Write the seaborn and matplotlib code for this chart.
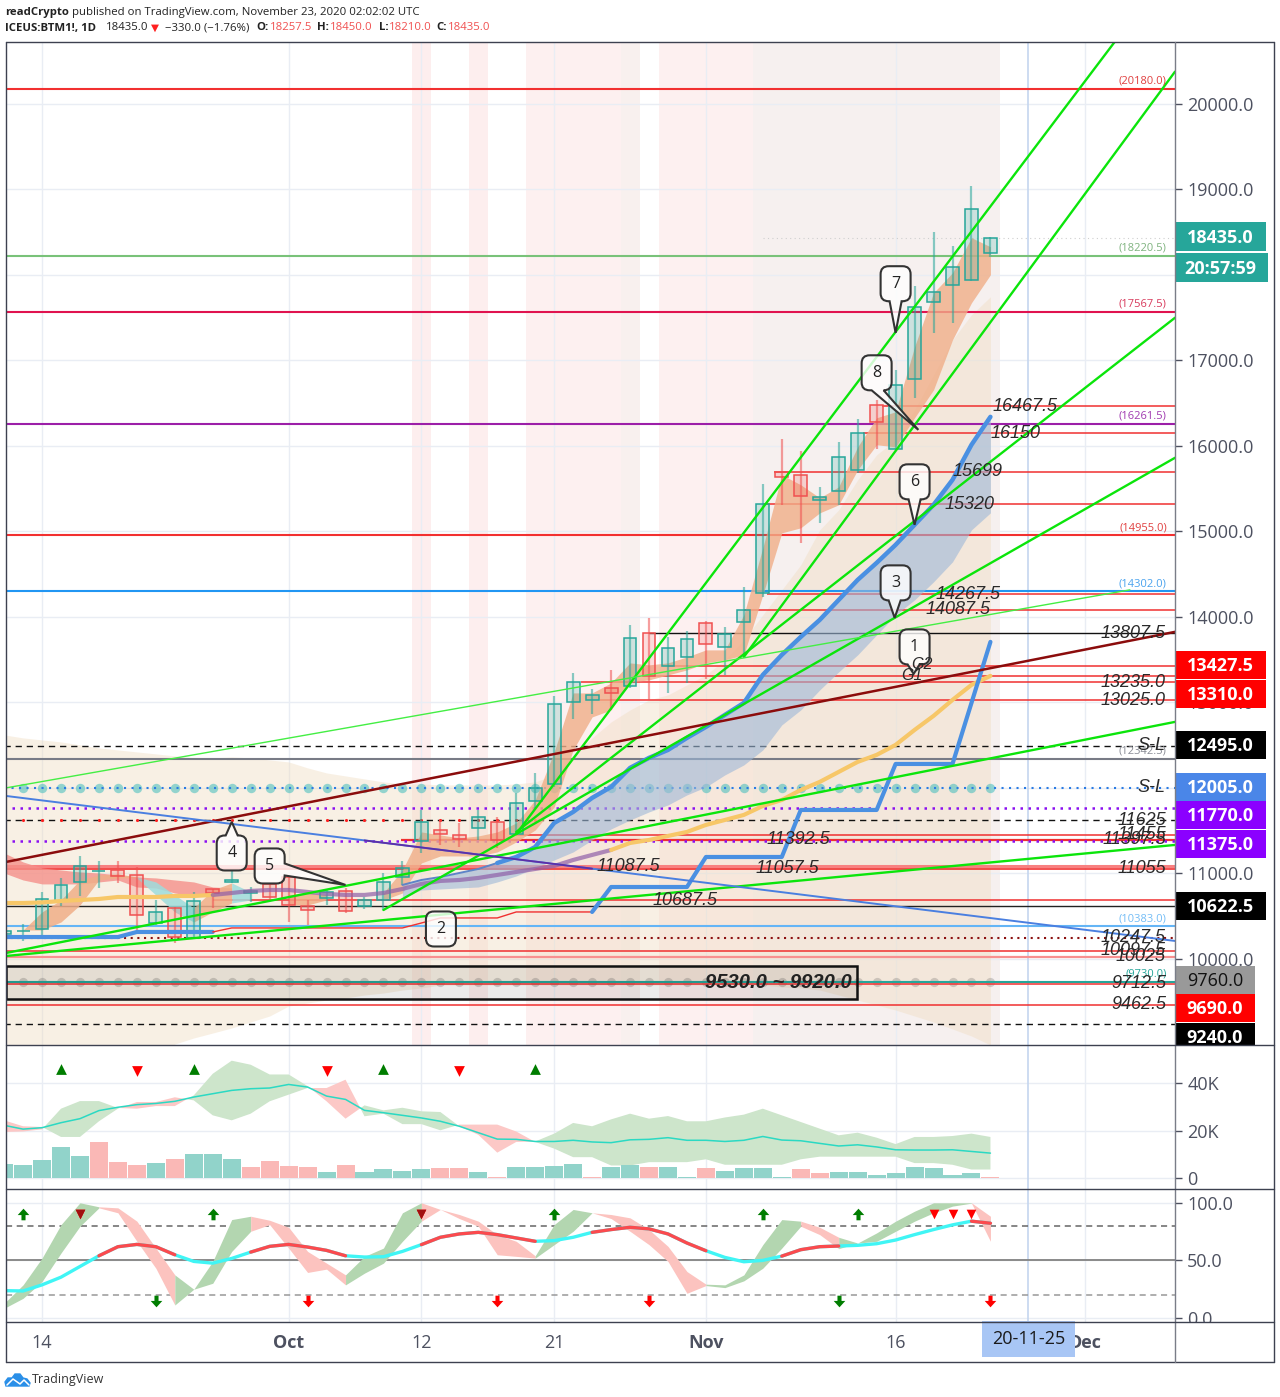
from itertools import groupby

import numpy as np
import pandas as pd
import seaborn as sns
import matplotlib
matplotlib.use("Agg")
from matplotlib import pyplot as plt
from matplotlib.lines import Line2D
from matplotlib.path import Path
from matplotlib.patches import Rectangle, Polygon, PathPatch

# bar index 0 is Sep 14, last bar (50) is Nov 23
bars = np.arange(-2, 51)

candle_open = [10298,10325,10351,10679,10901,11025,11041,10983,10421,10597,10246,10819,10901,10772,10878,10959,10620,10714,10796,10620,10690,10959,11381,11509,11451,11533,11603,11462,11849,12047,13007,13030,13171,13194,13814,13428,13533,13931,13650,13943,14282,15698,15663,15370,15476,15721,16482,15967,16786,17687,17886,17944,18257.5]
candle_high = [10400,10410,10784,10948,11205,11147,11147,11076,10690,10608,10784,10819,11030,10842,10878,10971,10690,10807,10831,10725,11006,11147,11743,11626,11591,11743,11661,11942,12176,13077,13346,13159,13381,13908,13990,13767,13838,13955,13884,14352,15558,16084,15944,15522,16049,16318,16540,16891,17874,18506,18342,19044,18450]
candle_low = [10250,10210,10257,10620,10737,10831,10889,10328,10398,10187,10234,10597,10889,10667,10679,10433,10398,10632,10538,10585,10573,10866,11240,11334,11310,11392,11299,11451,11767,12012,12808,12867,12913,13171,13030,13112,13229,13276,13323,13533,14235,15312,14867,15101,15312,15686,15967,15955,16564,17324,17441,17933,18210]
candle_close = [10328,10330,10702,10866,11088,11030,10971,10515,10550,10257,10679,10772,10924,10796,10725,10632,10573,10784,10562,10690,10901,11065,11603,11462,11404,11661,11392,11825,12001,12984,13241,13089,13112,13756,13311,13639,13744,13686,13803,14083,15324,15639,15417,15405,15873,16154,16283,16716,17628,17804,18096,18775,18435]

beige_top = [12621,12586,12562,12539,12504,12469,12445,12422,12399,12375,12352,12352,12363,12352,12328,12305,12235,12176,12141,12106,12071,12048,12048,12036,12036,12036,12036,12048,12071,12153,12387,12586,12773,12913,13030,13089,13206,13323,13498,13732,14025,14317,14610,15019,15253,15604,15897,16072,16423,16833,17242,17535,17745]
beige_bottom = [8818,8818,8818,8818,8818,8818,8818,8818,8818,9005,9076,9134,9193,9263,9333,9450,9485,9520,9544,9579,9602,9637,9661,9696,9696,9696,9696,9696,9696,9696,9696,9696,9696,9696,9696,9696,9696,9696,9696,9696,9696,9672,9661,9637,9579,9520,9462,9403,9333,9263,9181,9099,8994]

# left ribbons, first from bar -2, second from bar -1
red_rib_top = [11240,11135,11065,11041,11018,11006,10983,10959,10948,10924,10901,10842,10831]
red_rib_bot = [11006,10924,10878,10878,10878,10901,10924,10842,10831,10772,10737,10772,10749]
mix_rib_top = [10339,10550,10690,10924,10983,10995,10959,10901,10749,10597,10807,10889,10784,10772,10749,10772,10749]
mix_rib_bot = [10339,10339,10433,10632,10924,10948,10948,10749,10550,10433,10550,10655,10690,10737,10632,10632,10690]
mix_rib_kind = "oooooocccoocnnoo"

# orange ribbon from bar 18
orange_top = [10772,11041,11486,11451,11416,11439,11486,11591,11860,12422,13112,13112,13229,13463,13440,13463,13533,13615,13615,14025,14809,15663,15546,15394,15522,15990,16330,16400,17160,17792,18026,18436,18330]
orange_bot = [10690,10772,11123,11205,11205,11205,11252,11369,11509,11778,12445,12831,12913,13241,13264,13323,13381,13463,13498,13557,14259,14984,15043,15218,15312,15721,16014,15990,16330,16657,17242,17675,18003]

# blue ribbon from bar 19
blue_line = [10866,10924,10959,11006,11053,11123,11193,11310,11591,11720,11884,12012,12235,12352,12445,12586,12714,12855,12995,13323,13557,13767,13966,14200,14434,14633,14844,15078,15312,15604,16014,16341]
blue_bot = [10725,10807,10819,10831,10842,10901,10971,11065,11158,11252,11392,11521,11626,11720,11802,11919,12012,12153,12270,12445,12738,12913,13147,13358,13557,13791,14025,14200,14411,14645,15019,15218]

slow_ma = [10655,10655,10661,10679,10690,10702,10725,10725,10725,10737,10737,10749,10772,10796,10807,10807,10784,10761,10749,10749,10772,10819,10878,10913,10924,10948,10983,11018,11053,11088,11158,11217,11275,11357,11392,11439,11486,11568,11626,11685,11790,11860,11977,12071,12188,12305,12387,12504,12679,12843,13030,13206,13311]
stop_line = [10257,10257,10257,10257,10257,10257,10257,10316,10316,10316,10316,10316,10363,10363,10363,10363,10363,10363,10363,10363,10363,10363,10421,10480,10480,10480,10480,10550,10550,10550,10550,10550,10842,10842,10842,10842,10842,11193,11193,11193,11193,11193,11743,11743,11743,11743,11743,12281,12281,12281,12281,12995,13709]

# full width levels with a small label in brackets
level_prices = [20180,18220.5,17567.5,16261.5,14955,14302,12342.5,10383,9730]
level_labels = ["(20180.0)","(18220.5)","(17567.5)","(16261.5)","(14955.0)","(14302.0)","(12342.5)","(10383.0)","(9730.0)"]
level_colors = ["#f23030","#79c279","#e0134f","#9c1fa8","#f23030","#2196f3","#787b86","#64b5f6","#26a69a"]
level_text = ["#e04040","#7fb37f","#d83a5c","#a03ab0","#e04040","#4aa3ee","#8a8d96","#74bdf6","#26a69a"]

# red levels starting at a bar, running to the right edge
red_prices = [16467.5,16150,15699,15320,14267.5,14087.5,13427.5,13310,13235,13025,11455,11397.5,11087.5,11057.5,10687.5,10097.5,10025,9712.5,9462.5]
red_starts = [44.3,43.3,38.6,38,38.2,37,33,32,28.4,29.4,25,18.9,-1.9,-1.9,9,-1.9,-1.9,-1.9,-1.9]
red_colors = ["#f03030"]*12 + ["#f88080","#f02020"] + ["#f03030"]*2 + ["#f89090"] + ["#f03030"]*2
red_widths = [1.1]*11 + [1.6,2.2,1.1] + [1.1]*2 + [1.6] + [1.1]*2

# italic labels on the levels
note_text = ["16467.5","16150","15699","15320","14267.5","14087.5","11392.5","11087.5","11057.5","10687.5"]
note_price = [16467.5,16150,15699,15320,14267.5,14087.5,11392.5,11087.5,11057.5,10687.5]
note_bar = [51.8,51.3,49.3,48.9,48.8,48.3,39.85,30.9,39.3,33.9]
right_note_text = ["S-L","S-L","13807.5","13235.0","13025.0","11625","11455","11397.5","11055","10247.5","10097.5","10025","9712.5","9462.5"]
right_note_price = [12495,12005,13807.5,13235,13025,11625,11455,11397.5,11055,10247.5,10097.5,10025,9712.5,9462.5]

# trend lines as bar0, price0, bar1, price1
green_lines = [(25,11462,56.56,20729),(37,13533,59.73,20378),(25,11486,59.73,17500),(25,11462,59.73,15862),(18,10573,25,11462),(-1.9,10070,59.73,12773),(-1.9,10035,59.73,11334)]
thin_green = (-1.9,12001,57.35,14317)
dark_red_line = (-1.9,11135,59.73,13826)
blue_slope = (-1.9,11907,59.73,10211)

callout_text = ["1","2","3","4","5","6","7","8"]
callout_bar = [46,21.03,45,10,12,46,45,44]
callout_price = [13650,10351,14399,11240,11088,15581,17898,16856]
tip_bar = [45.95,21.03,44.95,10,16,46,45,46.2]
tip_price = [13335,10351,13990,11603,10866,15078,17324,16189]

price_ticks = [10000,11000,12000,13000,14000,15000,16000,17000,18000,19000,20000]
box_labels = ["18435.0","20:57:59","13427.5","13310.0","12495.0","12005.0","11770.0","11375.0","10622.5","9760.0","9690.0","9240.0"]
box_centers = [18447,18085,13440,13100,12504,12012,11685,11346,10620,9754,9427,9087]
box_colors = ["#26a69a","#26a69a","#ff0000","#ff0000","#000000","#4a86e8","#8b00ff","#8b00ff","#000000","#999999","#ff0000","#000000"]
box_widths = [91,93,91,91,91,91,91,91,91,80,80,80]

# volume panel, in thousands
volume = [6.0,5.6,7.4,13.1,9.1,15.0,6.7,5.6,6.5,7.9,10.0,10.0,7.9,4.5,7.0,4.9,4.5,2.4,5.3,2.4,3.7,2.8,3.7,4.1,4.1,2.4,0.3,4.5,4.5,5.2,6.0,0.3,4.5,5.6,4.5,4.5,0.3,4.1,2.8,4.1,4.1,0.3,3.7,2.0,2.4,2.4,1.5,2.0,4.5,4.1,1.1,2.0,0.3]
volume_dir = "tttttrrrtrtttrrrrtrttttrrtrttttrtt" + "rttrttttrrttttttttr"
volume_ma = [22.2,20.6,21.2,23.3,25.0,28.4,29.8,30.9,31.4,32.3,34.1,35.5,36.9,37.6,37.9,39.4,38.3,34.5,33.1,28.5,27.5,26.4,25.3,23.9,21.8,19.1,16.4,16.3,15.4,15.4,15.9,15.2,14.9,16.1,16.3,17.0,15.9,15.9,15.4,15.9,17.5,16.0,15.7,14.6,13.5,14.0,13.1,11.9,11.8,11.8,11.9,11.2,10.5]
vol_fast = [19.4,19.6,20.5,29.2,32.4,32.4,29.5,29.2,30.3,30.3,34.8,43.9,49.4,47.7,43.6,43.6,38.7,32.3,25.0,30.6,28.5,29.6,28.1,27.8,21.8,18.2,10.7,15.2,15.4,18.7,23.2,21.8,24.7,27.1,25.0,26.1,23.9,23.9,25.5,26.7,29.2,26.4,23.6,20.8,18.0,19.1,17.0,14.3,17.3,17.3,17.7,18.7,17.3]
vol_slow = [24.3,21.8,21.5,17.3,17.3,23.9,29.2,32.0,32.0,34.0,32.7,26.4,24.3,27.1,32.3,35.1,37.9,37.9,41.4,26.0,27.1,22.7,22.7,20.1,22.5,22.5,22.5,19.6,15.2,12.4,8.8,8.8,5.3,5.3,6.7,6.7,6.7,7.9,5.6,5.6,5.6,5.6,7.9,9.0,9.0,9.0,9.0,9.0,6.3,6.3,5.6,3.6,3.6]
vol_up_bars = [1,8,18,26]
vol_down_bars = [5,15,22]

# oscillator panel
osc_line = [23.6,23.3,28.6,35.3,44.6,53.9,61.8,63.8,61.8,54.8,49.0,47.5,51.6,57.1,62.1,63.8,61.5,58.6,53.9,52.8,53.1,57.7,63.6,70.0,72.9,74.3,72.3,69.4,66.5,67.1,70.0,74.3,76.7,78.7,77.3,72.9,65.0,58.3,52.5,48.7,49.9,53.6,59.2,61.8,62.4,63.0,64.4,67.6,72.3,76.7,80.8,84.0,82.2]
osc_top = [12.5,28.6,51.9,81.0,100,96.5,95.6,84.0,60.6,37.3,24.8,49.0,85.4,88.3,84.8,78.7,57.7,47.5,37.3,53.4,60.6,91.3,100,94.2,89.8,84.0,72.3,66.5,53.9,81.0,94.2,91.3,89.8,86.9,76.7,62.1,40.2,29.2,28.6,37.3,63.6,85.4,84.0,78.7,70.0,65.0,73.8,84.0,92.7,100,100,100,88.3]
osc_bot = [8.2,16.9,31.5,56.3,79.6,95.6,91.3,66.5,43.1,11.1,24.8,30.0,57.7,75.2,81.0,60.6,39.4,42.3,28.6,38.8,47.5,66.5,84.0,94.2,86.3,79.6,54.8,53.4,51.9,63.6,75.2,91.3,86.3,75.2,63.6,49.0,21.3,28.0,26.2,32.1,43.1,60.6,79.6,72.3,60.1,65.0,66.5,75.2,84.0,91.3,97.1,99.7,66.5]
osc_kind = "gggggrrrrggggrrrrrggggrrrrrrgggrrrrrrgggggrrgggggggr"
osc_red_spans = [(3,7),(11,16),(20,26),(29,35),(39,42),(49,50)]
osc_top_up = [-1,9,27,38,43]
osc_top_down = [2,20,47,48,49]
osc_low_green = [6,42]
osc_low_red = [14,24,32,50]

date_ticks = [0,13,20,27,35,45,55]
date_labels = ["14","Oct","12","21","Nov","16","Dec"]
cursor_bar = 52
cursor_label = "20-11-25"

W, H = 1280, 1397
sns.set_theme(style="white")
plt.rcParams['font.family'] = ['Open Sans', 'DejaVu Sans']

TEAL = "#26a69a"
RED = "#f05050"
GRID = "#e9edf4"
SCALE = "#4d5160"
PAD = 3.8


def rect_px(x0, y0, x1, y1):
    return [x0 / W, 1 - y1 / H, (x1 - x0) / W, (y1 - y0) / H]


def draw_line(ax, xs, ys, color, lw, z=5, **kw):
    sns.lineplot(x=xs, y=ys, ax=ax, color=color, linewidth=lw, zorder=z,
                 estimator=None, sort=False, legend=False, errorbar=None, **kw)


def ribbon(ax, xs, top, bot, color, z=3, alpha=1.0):
    ax.fill_between(xs, top, bot, color=color, lw=0, zorder=z, alpha=alpha)


def runs(kinds):
    # consecutive segments of one kind, so a fill has no seams
    pos = 0
    for kind, grp in groupby(kinds):
        n = len(list(grp))
        yield kind, pos, pos + n + 1
        pos += n


def level(ax, price, start, color, lw, ls="-", z=2.5):
    ax.hlines(price, start, 60, color=color, lw=lw, linestyles=ls, zorder=z)


def bubble_path(cb, cp, tb, tp, hw=15, hh=17.5, r=8, base=6):
    # rounded box with a tail on the side facing the tip, built in px around the box centre
    dx, dy = (tb - cb) * 18.97, (tp - cp) / 11.7
    side = None
    if np.hypot(dx, dy) > 1:
        side = ("right" if dx > 0 else "left") if abs(dx) > abs(dy) else ("top" if dy > 0 else "bottom")
    bx = np.clip(dx, -hw + r + base, hw - r - base)
    by = np.clip(dy, -hh + r + base, hh - r - base)
    v, c = [(-hw + r, hh)], [Path.MOVETO]
    if side == "top":
        v += [(bx - base, hh), (dx, dy), (bx + base, hh)]
        c += [Path.LINETO] * 3
    v += [(hw - r, hh), (hw, hh), (hw, hh - r)]
    c += [Path.LINETO, Path.CURVE3, Path.CURVE3]
    if side == "right":
        v += [(hw, by + base), (dx, dy), (hw, by - base)]
        c += [Path.LINETO] * 3
    v += [(hw, -hh + r), (hw, -hh), (hw - r, -hh)]
    c += [Path.LINETO, Path.CURVE3, Path.CURVE3]
    if side == "bottom":
        v += [(bx + base, -hh), (dx, dy), (bx - base, -hh)]
        c += [Path.LINETO] * 3
    v += [(-hw + r, -hh), (-hw, -hh), (-hw, -hh + r)]
    c += [Path.LINETO, Path.CURVE3, Path.CURVE3]
    v += [(-hw, hh - r), (-hw, hh), (-hw + r, hh)]
    c += [Path.LINETO, Path.CURVE3, Path.CURVE3]
    return Path([(cb + x / 18.97, cp + y * 11.7) for x, y in v], c)


fig = plt.figure(figsize=(W / 100, H / 100), dpi=100, facecolor="white")
ax = fig.add_axes(rect_px(6, 42, 1175, 1045))
ax_vol = fig.add_axes(rect_px(6, 1045, 1175, 1189), sharex=ax)
ax_osc = fig.add_axes(rect_px(6, 1189, 1175, 1322), sharex=ax)
ax_box = fig.add_axes(rect_px(1175, 42, 1275, 1045), sharey=ax)

for a in (ax, ax_vol, ax_osc):
    a.set_facecolor("white")
    a.grid(True, color=GRID, lw=1)
    a.set_axisbelow(True)
    a.yaxis.tick_right()
    for s in a.spines.values():
        s.set_visible(False)
    a.axvline(cursor_bar, color="#c5d6ef", lw=1.2, zorder=1.5)

ax.set_xlim(-1.9, 59.73)
ax.set_ylim(8994, 20725)
ax_vol.set_ylim(-4.6, 56)
ax_osc.set_ylim(-3.7, 112)

# session shading
for b0, b1, col in [(19.5, 20.5, "#fdeeee"), (22.5, 23.5, "#fdeeee"), (25.5, 30.5, "#fdf0f0"),
                    (30.5, 31.5, "#f8f0ee"), (32.5, 37.5, "#fdf0f0"), (37.5, 50.5, "#f6f0ef")]:
    ax.axvspan(b0, b1, color=col, lw=0, zorder=0.2)

ribbon(ax, bars, beige_top, beige_bottom, "#f0dcc0", z=1, alpha=0.42)

for p, c in zip(level_prices, level_colors):
    level(ax, p, -2, c, 1.5)
for p, b0, c, w in zip(red_prices, red_starts, red_colors, red_widths):
    level(ax, p, b0, c, w)
level(ax, 13807.5, 32, "#111111", 1.0)
level(ax, 10622.5, -2, "#222222", 1.0)
for p in [12495, 11625, 9240]:
    level(ax, p, -2, "#111111", 1.0, ls=(0, (4.5, 3.5)))
level(ax, 12005, -2, "#2a7be4", 1.5, ls=(0, (1, 2.6)))
for p in [11770, 11375]:
    level(ax, p, -2, "#8b10f0", 1.8, ls=(0, (1, 2.2)))
level(ax, 10247.5, -2, "#8b1010", 1.5, ls=(0, (1, 2.2)))
level(ax, 18435, 38, "#cfcfcf", 0.8, ls=(0, (1, 3)))

dot_bars = bars[1:]
sns.scatterplot(x=dot_bars, y=np.full(len(dot_bars), 12005.0), ax=ax, color="#2fb8b8", alpha=0.5,
                s=46, linewidth=0, zorder=2.4, legend=False)
sns.scatterplot(x=dot_bars, y=np.full(len(dot_bars), 9730.0), ax=ax, color="#555555", alpha=0.25,
                s=44, linewidth=0, zorder=2.4, legend=False)
sns.scatterplot(x=bars[1:29], y=np.full(28, 11625.0), ax=ax, color="#ff2020", s=5, linewidth=0,
                zorder=2.7, legend=False)

# ribbons
ribbon(ax, bars[:13], red_rib_top, red_rib_bot, "#f5908a", alpha=0.8)
rib_cols = {"o": "#f0ae88", "c": "#9edcdc"}
mix_bars = bars[1:]
for kind, i0, i1 in runs(mix_rib_kind):
    if kind != "n":
        ribbon(ax, mix_bars[i0:i1], mix_rib_top[i0:i1], mix_rib_bot[i0:i1], rib_cols[kind], alpha=0.85)
ribbon(ax, bars[20:], orange_top, orange_bot, "#f0ae88", z=3.1, alpha=0.8)
ribbon(ax, bars[21:], blue_line, blue_bot, "#9db8d8", z=3.1, alpha=0.6)

# candles
frame = pd.DataFrame({"bar": bars, "o": candle_open, "h": candle_high, "l": candle_low, "c": candle_close})
frame["col"] = np.where(frame.c >= frame.o, TEAL, RED)
ax.vlines(frame.bar, frame.l, frame.h, colors=frame.col, lw=1.6, alpha=0.55, zorder=3.4)
ax.bar(frame.bar, (frame.c - frame.o).abs(), bottom=frame[["o", "c"]].min(axis=1), width=0.68,
       color=[matplotlib.colors.to_rgba(c, 0.2) for c in frame.col], edgecolor=frame.col, lw=1.1, zorder=3.5)

# moving averages and the stop line
draw_line(ax, bars[:12], slow_ma[:12], "#f7c768", 3, z=4)
draw_line(ax, bars[11:33], slow_ma[11:33], "#8f5fa8", 3, z=4, alpha=0.7)
draw_line(ax, bars[32:], slow_ma[32:], "#f7c768", 3, z=4)
draw_line(ax, bars[21:27], blue_line[:6], "#5e84c8", 1.4, z=4.2)
draw_line(ax, bars[26:], blue_line[5:], "#4a90e2", 3.2, z=4.2)
draw_line(ax, bars[:12], stop_line[:12], "#4a90e2", 3, z=4)
draw_line(ax, bars[11:32], stop_line[11:32], "#f03030", 1, z=4)
draw_line(ax, bars[31:], stop_line[31:], "#4a90e2", 3, z=4.2)

for b0, p0, b1, p1 in green_lines:
    draw_line(ax, [b0, b1], [p0, p1], "#0be50b", 1.7)
draw_line(ax, [thin_green[0], thin_green[2]], [thin_green[1], thin_green[3]], "#44ee44", 1)
draw_line(ax, [dark_red_line[0], dark_red_line[2]], [dark_red_line[1], dark_red_line[3]], "#8b0c0c", 1.8)
draw_line(ax, [blue_slope[0], blue_slope[2]], [blue_slope[1], blue_slope[3]], "#4a7fe0", 1.4)
bs = (blue_slope[3] - blue_slope[1]) / (blue_slope[2] - blue_slope[0])
draw_line(ax, [17, 29], [blue_slope[1] + bs * 18.9, blue_slope[1] + bs * 30.9], "#5e2fa8", 1.3, z=5.1)

# price range box
ax.add_patch(Rectangle((-1.9, 9530), 44.86, 390, facecolor="#000000", edgecolor="none", alpha=0.08, zorder=5.5))
ax.add_patch(Rectangle((-1.9, 9530), 44.86, 390, fill=False, edgecolor="#111111", lw=1.8, zorder=5.6))
ax.text(38.8, 9725, "9530.0 ~ 9920.0", family="Liberation Sans", style="italic", weight="bold",
        fontsize=14.5, color="#222222", ha="center", va="center", zorder=7)

# level labels
for p, t, c in zip(level_prices, level_labels, level_text):
    ax.annotate(t, xy=(59.3, p), xytext=(0, 5.5), textcoords="offset points", ha="right", va="center",
                fontsize=8, color=c, zorder=7)
for t, p, b in zip(note_text, note_price, note_bar):
    ax.text(b, p, t, family="Liberation Sans", style="italic", fontsize=13, color="#2a2a2a",
            ha="center", va="center", zorder=7)
for t, p in zip(right_note_text, right_note_price):
    ax.text(59.25, p, t, family="Liberation Sans", style="italic", fontsize=13, color="#2a2a2a",
            ha="right", va="center", zorder=7)
ax.text(46.4, 13440, "G2", family="Liberation Sans", style="italic", fontsize=11.5, color="#2a2a2a", ha="center", va="center", zorder=9)
ax.text(45.85, 13311, "G1", family="Liberation Sans", style="italic", fontsize=11.5, color="#2a2a2a", ha="center", va="center", zorder=9)

# callouts, see-through as in the drawing tool
for t, cb, cp, tb, tp in zip(callout_text, callout_bar, callout_price, tip_bar, tip_price):
    ax.add_patch(PathPatch(bubble_path(cb, cp, tb, tp), facecolor=(1, 1, 1, 0.8), edgecolor="#333333",
                           lw=1.5, zorder=8))
    ax.text(cb, cp, t, fontsize=11.5, color="#222222", ha="center", va="center", zorder=9)

ax.set_yticks(price_ticks, [f"{p:.1f}" for p in price_ticks], fontsize=13, color=SCALE)
ax.tick_params(axis="y", length=5, width=1, color=SCALE, pad=PAD)
ax.tick_params(axis="x", length=0, labelbottom=False)

# boxes on the price scale
ax_box.set_xlim(0, 100)
ax_box.axis("off")
ax_box.patch.set_alpha(0)
ax_box.set_zorder(3)
for t, p, c, w in zip(box_labels, box_centers, box_colors, box_widths):
    ax_box.add_patch(Rectangle((0, p - 168), w, 336, facecolor=c, edgecolor="none"))
    tc = "#111111" if c == "#999999" else "white"
    ax_box.text(w / 2 if w == 80 else 45, p - 12, t, fontsize=13, weight="medium" if c == "#999999" else "bold",
                color=tc, ha="center", va="center")

# volume
vol_frame = pd.DataFrame({"bar": bars, "vol": volume, "kind": list(volume_dir)})
sns.barplot(data=vol_frame, x="bar", y="vol", hue="kind", palette={"t": "#91d3ca", "r": "#fab8b6"},
            native_scale=True, dodge=False, width=0.95, ax=ax_vol, legend=False, zorder=3, linewidth=0,
            saturation=1)
vf, vs = np.array(vol_fast), np.array(vol_slow)
ax_vol.fill_between(bars, vf, vs, where=vf >= vs, interpolate=True, color="#cde5cb", lw=0, zorder=2)
ax_vol.fill_between(bars, vf, vs, where=vf <= vs, interpolate=True, color="#fcc8c6", lw=0, zorder=2)
draw_line(ax_vol, bars, volume_ma, "#2bd9c3", 1.1, z=4)
sns.scatterplot(x=vol_up_bars, y=[45.8] * 4, ax=ax_vol, marker="^", color="#007d00", s=60, linewidth=0, zorder=5, legend=False)
sns.scatterplot(x=vol_down_bars, y=[44.9] * 3, ax=ax_vol, marker="v", color="#ff0000", s=60, linewidth=0, zorder=5, legend=False)
ax_vol.set_ylim(-4.6, 56)
ax_vol.set_yticks([0, 20, 40], ["0", "20K", "40K"], fontsize=13, color=SCALE)
ax_vol.tick_params(axis="y", length=5, width=1, color=SCALE, pad=PAD)
ax_vol.tick_params(axis="x", length=0, labelbottom=False)
ax_vol.set_xlabel("")
ax_vol.set_ylabel("")

# oscillator
osc_cols = {"g": "#b3d6b0", "r": "#fcc3bf"}
for kind, i0, i1 in runs(osc_kind):
    ribbon(ax_osc, bars[i0:i1], osc_top[i0:i1], osc_bot[i0:i1], osc_cols[kind], z=2)
ax_osc.axhline(50, color="#8a8a8a", lw=1.4, zorder=1.8)
for p, c in [(80, "#666666"), (20, "#999999")]:
    ax_osc.axhline(p, color=c, lw=1.1, ls=(0, (4, 3)), zorder=1.8)
osc = np.array(osc_line)
draw_line(ax_osc, bars, osc, "#40f5f5", 2.4, z=4)
for b0, b1 in osc_red_spans:
    draw_line(ax_osc, np.arange(b0, b1 + 1), osc[b0 + 2:b1 + 3], "#fb4a4e", 2.4, z=4.1)

arrow_up = [(-1, -0.1), (-0.35, -0.1), (-0.35, -1), (0.35, -1), (0.35, -0.1), (1, -0.1), (0, 1)]
arrow_dn = [(x, -y) for x, y in arrow_up]
sns.scatterplot(x=osc_top_up, y=[90.4] * len(osc_top_up), ax=ax_osc, marker=arrow_up, color="#007d00", s=70, linewidth=0, zorder=5, legend=False)
sns.scatterplot(x=osc_top_down, y=[90.4] * len(osc_top_down), ax=ax_osc, marker="v", color="#ff0000", s=48, linewidth=0, zorder=5, legend=False)
sns.scatterplot(x=osc_top_down[:2], y=[90.4] * 2, ax=ax_osc, marker="v", color="#a01010", s=48, linewidth=0, zorder=5.1, legend=False)
sns.scatterplot(x=osc_low_green, y=[14.9] * 2, ax=ax_osc, marker=arrow_dn, color="#007d00", s=70, linewidth=0, zorder=5, legend=False)
sns.scatterplot(x=osc_low_red, y=[14.9] * 4, ax=ax_osc, marker=arrow_dn, color="#ff0000", s=70, linewidth=0, zorder=5, legend=False)
ax_osc.set_ylim(-3.7, 112)
ax_osc.set_yticks([0, 50, 100], ["0.0", "50.0", "100.0"], fontsize=13, color=SCALE)
ax_osc.tick_params(axis="y", length=5, width=1, color=SCALE, pad=PAD)
ax_osc.set_xticks(date_ticks, date_labels, fontsize=13, color=SCALE)
ax_osc.tick_params(axis="x", length=4, width=1, color=SCALE, pad=5)
for lab in ax_osc.get_xticklabels():
    if lab.get_text() in ("Oct", "Nov", "Dec"):
        lab.set_fontweight("bold")
ax.set_xlim(-1.9, 59.73)

tr = ax_osc.get_xaxis_transform()
ax_osc.add_patch(Rectangle((cursor_bar - 2.45, -0.263), 4.9, 0.27, transform=tr, facecolor="#a8c6f5",
                           edgecolor="none", clip_on=False, zorder=10))
ax_osc.text(cursor_bar, -0.125, cursor_label, transform=tr, fontsize=13, color="#1a1a1a", ha="center",
            va="center", zorder=11, clip_on=False)
ax_osc.add_patch(Rectangle((1, -0.3), 0.09, 0.3, transform=ax_osc.transAxes, facecolor="white",
                           edgecolor="none", clip_on=False, zorder=10))


def fig_line(x0, y0, x1, y1, col="#3d4150", lw=1.0):
    fig.add_artist(Line2D([x0 / W, x1 / W], [1 - y0 / H, 1 - y1 / H], color=col, lw=lw, zorder=30))


fig_line(6, 42, 1274, 42)
fig_line(6, 1362, 1274, 1362)
fig_line(6, 42, 6, 1362)
fig_line(1274, 42, 1274, 1362)
fig_line(1175, 42, 1175, 1362, col="#7a7d88")
for y in (1045, 1189, 1322):
    fig_line(6, y, 1274, y)


def ftext(x, y, s, **kw):
    kw.setdefault("fontsize", 8.2)
    kw.setdefault("color", "#222222")
    fig.text(x / W, 1 - y / H, s, va="center", ha="left", **kw)


ftext(5, 12, "readCrypto", weight="bold")
ftext(72, 12, "published on TradingView.com, November 23, 2020 02:02:02 UTC")
ftext(5, 28, "ICEUS:BTM1!, 1D", weight="bold")
ftext(106, 28, "18435.0")
ftext(151, 28, "▼", color="#ff2020", fontsize=7.5)
ftext(165, 28, "−330.0 (−1.76%)")
for x, k, v, off in [(256, "O:", "18257.5", 14), (317, "H:", "18450.0", 13), (379, "L:", "18210.0", 10), (436, "C:", "18435.0", 12)]:
    ftext(x, 28, k, weight="bold")
    ftext(x + off, 28, v, color="#f05050")
ftext(32, 1380, "TradingView", fontsize=9, color="#333333")
logo = [(6, 1386), (5, 1382), (8, 1378), (12, 1378), (15, 1374), (20, 1374), (23, 1378), (27, 1379), (30, 1383), (29, 1386)]
fig.add_artist(Polygon([(x / W, 1 - y / H) for x, y in logo], closed=True, transform=fig.transFigure,
                       facecolor="#2a8fe8", edgecolor="#2a8fe8", lw=1, zorder=30))
zig = [(7, 1385), (13, 1379), (20, 1384), (24, 1380), (29, 1385)]
fig.add_artist(Line2D([x / W for x, _ in zig], [1 - y / H for _, y in zig], color="white", lw=1.1, zorder=31))

fig.savefig("out.png", dpi=100, facecolor="white")
